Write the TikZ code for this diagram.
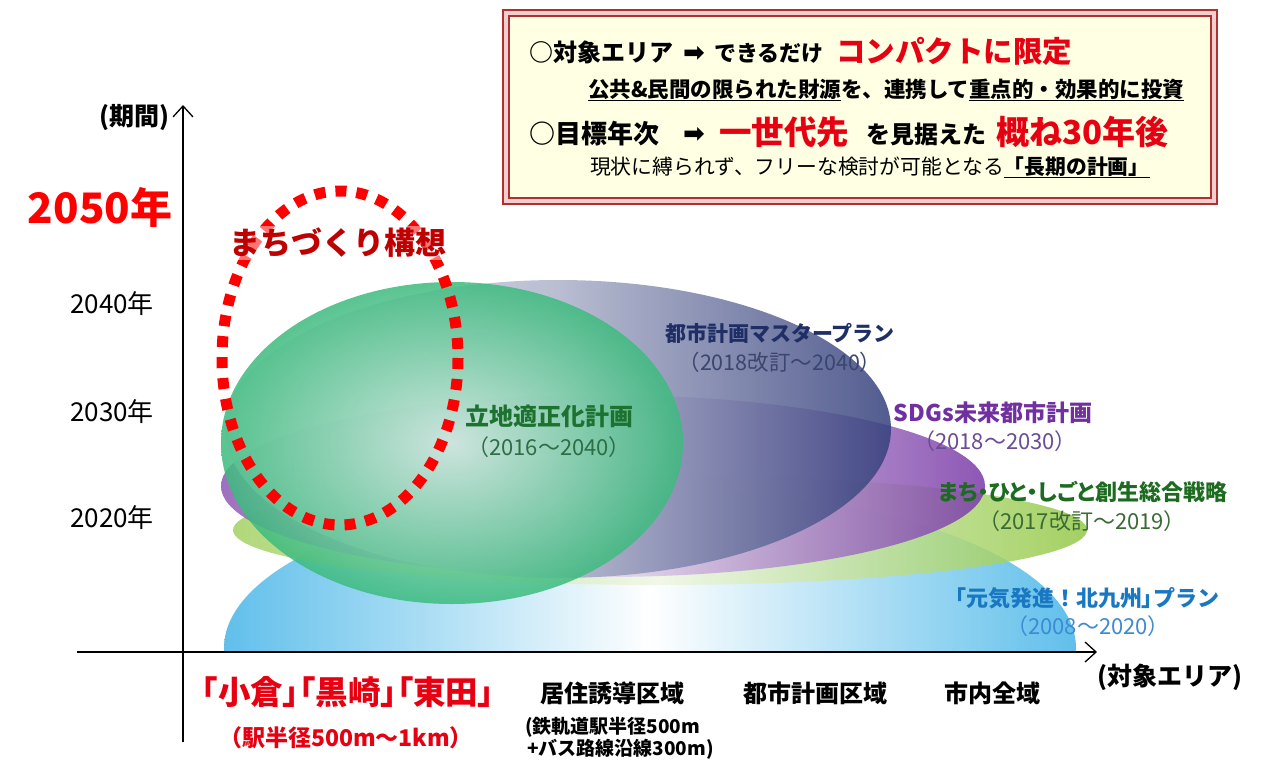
\documentclass[tikz,border=0pt]{standalone}
\usepackage{fontspec}
\setmainfont{Noto Sans CJK JP}
\newfontfamily\djv{DejaVu Sans}
\usetikzlibrary{arrows.meta}
\newcommand\fsz[1]{\fontsize{#1}{#1}\selectfont}
\newcommand\prop{\addfontfeatures{RawFeature=+palt}}
\definecolor{boxred}{HTML}{B03030}
\definecolor{band}{HTML}{F2CFCF}
\definecolor{cream}{HTML}{FFFFE3}
\definecolor{tred}{HTML}{E60012}
\definecolor{dred}{HTML}{C00000}
\definecolor{skyb}{HTML}{45B5E8}
\definecolor{ygreen}{HTML}{94C947}
\definecolor{purp}{HTML}{7A3AA8}
\definecolor{navyb}{HTML}{34407C}
\definecolor{mint}{HTML}{3DBB7E}
\definecolor{mintin}{HTML}{CFEBDF}
\definecolor{tnavy}{HTML}{1F2F66}
\definecolor{tnavy2}{HTML}{3A4570}
\definecolor{tgreen}{HTML}{1D7230}
\definecolor{tgreen2}{HTML}{2E6E45}
\definecolor{tpurp}{HTML}{7030A0}
\definecolor{tpurp2}{HTML}{6B4C96}
\definecolor{tdgreen}{HTML}{1C6B20}
\definecolor{tdgreen2}{HTML}{3A6B35}
\definecolor{tblue}{HTML}{1A78C2}
\definecolor{tblue2}{HTML}{3F8AD0}
\tikzset{
  lbl/.style={inner sep=0pt, outer sep=0pt},
  axisline/.style={line width=1.3pt, -{Straight Barb[length=11pt,width=20pt,line width=1.3pt]}},
  blob/.style={fill opacity=0.85},
  dotring/.style={draw=red, line width=11pt, dash pattern=on 11pt off 10pt},
}
\begin{document}
\begin{tikzpicture}[x=1pt,y=-1pt]
\useasboundingbox (0,0) rectangle (1268,760);
\fill[white] (0,0) rectangle (1268,760);

% ---- ellipses ----
\begin{scope}
  \clip (0,0) rectangle (1268,652);
  \shade[blob, left color=skyb, right color=skyb, middle color=white] (650,648) ellipse [x radius=426, y radius=160];
\end{scope}
\shade[blob, left color=ygreen!85, right color=ygreen, middle color=ygreen!15] (660,530) ellipse [x radius=427, y radius=55];
\shade[blob, left color=purp!85, right color=purp, middle color=purp!20] (603,486) ellipse [x radius=382, y radius=91];
\shade[blob, left color=navyb!12, right color=navyb, middle color=navyb!40] (558,429) ellipse [x radius=333, y radius=149];
\shade[blob, inner color=mintin, outer color=mint] (452,443) ellipse [x radius=231, y radius=161];

% ---- dotted ring ----
\draw[dotring] (340,358) ellipse [x radius=118, y radius=167];
\node[lbl, inner sep=2pt, fill=white, fill opacity=0.45, text opacity=1, text=dred, font=\bfseries\fsz{31}] (koso) at (338,243) {まちづくり構想};

% ---- axes ----
\coordinate (xs) at (77,652);
\coordinate (xe) at (1097,652);
\coordinate (ys) at (183,742);
\coordinate (ye) at (183,105);
\draw[axisline] (xs) -- (xe);
\draw[axisline] (ys) -- (ye);

% ---- y labels ----
\node[lbl, anchor=east, font=\bfseries\fsz{25}] (kikan) at (169,118) {(期間)};
\node[lbl, text=red, font=\bfseries\fsz{42}] (y2050) at (100,207) {2050年};
\node[lbl, font=\fsz{26}] (y2040) at (112,304) {2040年};
\node[lbl, font=\fsz{26}] (y2030) at (112,412) {2030年};
\node[lbl, font=\fsz{26}] (y2020) at (112,518) {2020年};

% ---- x labels ----
\node[lbl, text=tred, font=\bfseries\fsz{32.5}\prop] (kokura) at (348,692) {「小倉」「黒崎」「東田」};
\node[lbl, text=tred, font=\bfseries\fsz{23}] (eki) at (346,738) {（駅半径500m～1km）};
\node[lbl, font=\bfseries\fsz{24}] (kyoju) at (612,693) {居住誘導区域};
\node[lbl, anchor=west, font=\bfseries\fsz{19}] (tetsu) at (525,727) {(鉄軌道駅半径500m};
\node[lbl, anchor=west, font=\bfseries\fsz{19}] (bus) at (527,749) {+バス路線沿線300m)};
\node[lbl, font=\bfseries\fsz{24}] (toshi) at (815,693) {都市計画区域};
\node[lbl, font=\bfseries\fsz{24}] (shinai) at (992,693) {市内全域};
\node[lbl, font=\bfseries\fsz{25}] (taisho) at (1170,677) {(対象エリア)};

% ---- plan labels ----
\node[lbl, text=tnavy, font=\bfseries\fsz{21}] (mp) at (780,333) {都市計画マスタープラン};
\node[lbl, text=tnavy2, font=\fsz{21.5}] (mpy) at (780,362) {（2018改訂～2040）};
\node[lbl, text=tgreen, font=\bfseries\fsz{24}] (rt) at (549,416) {立地適正化計画};
\node[lbl, text=tgreen2, font=\fsz{22}] (rty) at (549,447) {（2016～2040）};
\node[lbl, text=tpurp, font=\bfseries\fsz{23}] (sdg) at (993,413) {SDGs未来都市計画};
\node[lbl, text=tpurp2, font=\fsz{22}] (sdgy) at (995,441) {（2018～2030）};
\node[lbl, text=tdgreen, font=\bfseries\fsz{22}\prop] (mhs) at (1083,492) {まち・ひと・しごと創生総合戦略};
\node[lbl, text=tdgreen2, font=\fsz{22}] (mhsy) at (1082,521) {（2017改訂～2019）};
\node[lbl, text=tblue, font=\bfseries\fsz{22}] (gk) at (1087,598) {{\prop「}元気発進！北九州{\prop」}プラン};
\node[lbl, text=tblue2, font=\fsz{22}] (gky) at (1088,626) {（2008～2020）};

% ---- top box ----
\draw[line width=2.2pt, draw=boxred, fill=band] (503,10) rectangle (1217,204);
\draw[line width=1.1pt, draw=boxred, fill=cream] (509,16) rectangle (1211,198);

\node[lbl, anchor=base west, font=\bfseries\fsz{24}] (l1a) at (529,62) {○対象エリア};
\node[lbl, anchor=base west, font=\djv\bfseries\fsz{26}] (l1b) at (683,62) {➡};
\node[lbl, anchor=base west, font=\bfseries\fsz{22}] (l1c) at (714,62) {できるだけ};
\node[lbl, anchor=base west, text=tred, font=\bfseries\fsz{29.5}] (l1d) at (836,63) {コンパクトに限定};
\node[lbl, anchor=base west, font=\bfseries\fsz{21.5}] (l2) at (588,97) {\underline{公共\&民間の限られた財源}を、連携して\underline{重点的・効果的に投資}};
\node[lbl, anchor=base west, font=\bfseries\fsz{26}] (l3a) at (529,143) {○目標年次};
\node[lbl, anchor=base west, font=\djv\bfseries\fsz{26}] (l3b) at (683,142) {➡};
\node[lbl, anchor=base west, text=tred, font=\bfseries\fsz{32.5}] (l3c) at (719,144) {一世代先};
\node[lbl, anchor=base west, font=\bfseries\fsz{24}] (l3d) at (866,143) {を見据えた};
\node[lbl, anchor=base west, text=tred, font=\bfseries\fsz{33}] (l3e) at (996,144) {概ね30年後};
\node[lbl, anchor=base west, font=\fsz{20.8}] (l4) at (590,174) {現状に縛られず、フリーな検討が可能となる{\bfseries\underline{「長期の計画」}}};
\end{tikzpicture}
\end{document}
